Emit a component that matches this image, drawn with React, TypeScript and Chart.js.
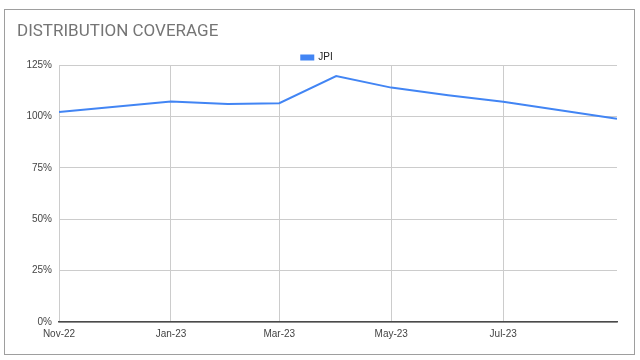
import React, { useEffect, useRef } from "react";
import { Chart, registerables } from "chart.js";

Chart.register(...registerables);

const chartTitle = "DISTRIBUTION COVERAGE";
const seriesName = "JPI";
const pointDates = [
  "2022-11-01",
  "2023-01-01",
  "2023-02-01",
  "2023-03-01",
  "2023-04-01",
  "2023-05-01",
  "2023-06-01",
  "2023-07-01",
  "2023-08-01",
  "2023-09-01",
];
const coverageValues = [102.1, 107.2, 106.0, 106.4, 119.6, 114.0, 110.3, 107.1, 103.0, 98.9];
const xTickDates = ["2022-11-01", "2023-01-01", "2023-03-01", "2023-05-01", "2023-07-01"];
const xTickLabels = ["Nov-22", "Jan-23", "Mar-23", "May-23", "Jul-23"];
const yTicks = [0, 25, 50, 75, 100, 125];

const DAY = 86400000;
const toDay = (s: string) => {
  const [y, m, d] = s.split("-").map(Number);
  return Date.UTC(y, m - 1, d) / DAY;
};
const origin = toDay(pointDates[0]);
const dayOf = (s: string) => toDay(s) - origin;

const legendFitPatch = {
  id: "legendFitPatch",
  beforeInit(chart: any) {
    const lg = chart.legend;
    if (lg && !lg.__patched) {
      const orig = lg.fit;
      lg.fit = function (this: any) {
        orig.call(this);
        this.height = this.height - 7.5;
      };
      lg.__patched = true;
    }
  },
};

export default function App() {
  const ref = useRef<HTMLCanvasElement | null>(null);

  useEffect(() => {
    if (!ref.current) return;
    const xTickVals = xTickDates.map(dayOf);
    const chart = new Chart(ref.current, {
      type: "line",
      data: {
        datasets: [
          {
            label: seriesName,
            data: pointDates.map((d, i) => ({ x: dayOf(d), y: coverageValues[i] })),
            borderColor: "#4285F4",
            backgroundColor: "#4285F4",
            borderWidth: 2,
            pointRadius: 0,
            tension: 0,
          },
        ],
      },
      plugins: [legendFitPatch],
      options: {
        responsive: false,
        animation: false,
        devicePixelRatio: 1,
        layout: { padding: { left: 17, right: 23, top: 0, bottom: 0 } },
        plugins: {
          title: {
            display: true,
            text: chartTitle,
            align: "start",
            color: "#757575",
            font: { family: "Roboto, 'Liberation Sans', sans-serif", size: 17, weight: "normal" },
            padding: { top: 21.3, bottom: 8.3 },
          },
          legend: {
            display: true,
            position: "top",
            align: "center",
            labels: {
              boxWidth: 12,
              boxHeight: 4,
              padding: 2.5,
              color: "#222",
              font: { family: "'Liberation Sans', Arial, sans-serif", size: 10 },
            },
          },
          tooltip: { enabled: false },
        },
        scales: {
          x: {
            type: "linear",
            min: 0,
            max: dayOf(pointDates[pointDates.length - 1]),
            afterBuildTicks: (scale: any) => {
              scale.ticks = xTickVals.map((v) => ({ value: v }));
            },
            afterFit: (scale: any) => {
              scale.height = 38;
            },
            ticks: {
              autoSkip: false,
              maxRotation: 0,
              padding: 6,
              color: "#444",
              font: { family: "'Liberation Sans', Arial, sans-serif", size: 10 },
              callback: (v: any) => {
                const i = xTickVals.indexOf(Number(v));
                return i >= 0 ? xTickLabels[i] : "";
              },
            },
            grid: { color: "#cccccc", drawTicks: false, lineWidth: 1 },
            border: { display: true, color: "#4a4a4a", width: 1.5 },
          },
          y: {
            min: 0,
            max: 125,
            afterBuildTicks: (scale: any) => {
              scale.ticks = yTicks.map((v) => ({ value: v }));
            },
            afterFit: (scale: any) => {
              scale.width = 42;
            },
            ticks: {
              padding: 7,
              color: "#444",
              font: { family: "'Liberation Sans', Arial, sans-serif", size: 10 },
              callback: (v: any) => `${v}%`,
            },
            grid: { color: "#cccccc", drawTicks: false, lineWidth: 1 },
            border: { display: false },
          },
        },
      },
    });
    return () => chart.destroy();
  }, []);

  return (
    <div
      style={{
        position: "fixed",
        left: 0,
        top: 0,
        width: 640,
        height: 360,
        background: "#ffffff",
      }}
    >
      <canvas ref={ref} width={640} height={360} style={{ position: "absolute", left: 0, top: 0 }} />
      <div
        style={{
          position: "absolute",
          left: 4,
          top: 9,
          width: 629,
          height: 344,
          border: "1px solid #9e9e9e",
          pointerEvents: "none",
        }}
      />
    </div>
  );
}
